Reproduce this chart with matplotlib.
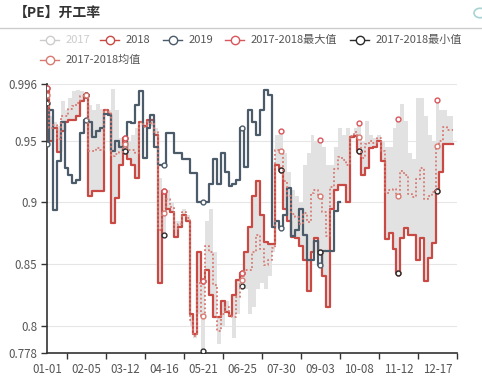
import numpy as np
import matplotlib
matplotlib.use('Agg')
import matplotlib.pyplot as plt
from matplotlib.lines import Line2D
from matplotlib.patches import Circle

plt.rcParams['font.family'] = ['Noto Sans CJK SC', 'DejaVu Sans']

# one sample every 3.5 days, 01-01 .. 12-31
step_days = 3.5
tick_labels = ['01-01', '02-05', '03-12', '04-16', '05-21', '06-25',
               '07-30', '09-03', '10-08', '11-12', '12-17']
y_ticks = [0.778, 0.8, 0.85, 0.9, 0.95, 0.996]
y_tick_labels = ['0.778', '0.8', '0.85', '0.9', '0.95', '0.996']

v2017 = [.981, .970, .965, .962, .982, .975, .985, .990, .991, .990,
         .987, .979, .975, .980, .976, .975, .975, .992, .975, .952,
         .942, .950, .955, .960, .965, .960, .963, .962, .960, .920,
         .874, .910, .900, .885, .885, .895, .890, .800, .790, .810,
         .780, .885, .895, .860, .785, .800, .820, .810, .790, .810,
         .832, .830, .810, .815, .830, .835, .830, .840, .860, .955,
         .958, .940, .925, .910, .905, .900, .930, .940, .955, .950,
         .951, .945, .930, .930, .945, .960, .955, .960, .955, .960,
         .964, .950, .966, .955, .952, .955, .950, .945, .945, .960,
         .968, .980, .966, .940, .935, .985, .985, .970, .955, .950,
         .983, .975, .975, .970, .970]

v2018 = [.993, .950, .960, .941, .958, .965, .967, .967, .970, .982,
         .987, .905, .909, .909, .909, .975, .972, .883, .904, .930,
         .952, .935, .930, .920, .965, .962, .967, .967, .955, .835,
         .909, .895, .892, .872, .880, .890, .885, .810, .793, .860,
         .836, .845, .825, .807, .807, .820, .811, .808, .825, .837,
         .843, .860, .880, .905, .917, .890, .868, .866, .866, .930,
         .926, .895, .885, .872, .871, .865, .853, .828, .860, .871,
         .860, .840, .815, .895, .910, .914, .914, .900, .953, .954,
         .942, .922, .928, .944, .945, .950, .934, .870, .875, .862,
         .843, .871, .879, .874, .874, .853, .871, .836, .855, .867,
         .909, .925, .947, .947, .947]

v2019 = [.947, .975, .894, .934, .965, .928, .922, .916, .918, .956,
         .967, .965, .953, .958, .960, .972, .971, .942, .950, .945,
         .942, .965, .964, .979, .990, .936, .960, .971, .945, .930,
         .930, .956, .956, .940, .940, .935, .935, .924, .924, .900,
         .900, .900, .915, .935, .915, .940, .925, .913, .915, .918,
         .960, .929, .975, .965, .955, .975, .991, .987, .880, .885,
         .879, .890, .912, .873, .878, .895, .874, .853, .853, .869,
         .849, .861, .861, .861, .893, .900]

a17 = np.array(v2017)
a18 = np.array(v2018)
v_max = np.maximum(a17, a18)
v_min = np.minimum(a17, a18)
v_mean = (a17 + a18) / 2

x = np.arange(len(v2018)) * step_days
x19 = np.arange(len(v2019)) * step_days

c2018 = '#c94a44'
c2019 = '#4b5b69'
cmax = '#d9565c'
cmin = '#2b2b2b'
cmean = '#d77a72'

fig = plt.figure(figsize=(4.82, 3.81), dpi=100)
ax = fig.add_axes([47 / 482, 1 - 353 / 381, 410 / 482, 269 / 381])

ax.fill_between(x, v_min, v_max, step='mid', color='#e2e2e2', lw=0, zorder=1)

mk = dict(marker='o', markersize=3.5, markerfacecolor='white', markeredgewidth=1.0, markevery=10)
ax.plot(x, v2018, drawstyle='steps-mid', color=c2018, lw=1.6, markeredgecolor=c2018, zorder=3, **mk)
ax.plot(x19, v2019, drawstyle='steps-mid', color=c2019, lw=1.6, markeredgecolor=c2019, zorder=4, **mk)
ax.plot(x, v_max, ls='none', markeredgecolor=cmax, zorder=5, **mk)
ax.plot(x, v_min, ls='none', markeredgecolor=cmin, zorder=5, **mk)
ax.plot(x, v_mean, drawstyle='steps-mid', color=cmean, lw=1.3, ls=(0, (1, 1.3)),
        markeredgecolor=cmean, zorder=5, **mk)

ax.set_xlim(0, 365)
ax.set_ylim(0.778, 0.996)
ax.set_yticks(y_ticks)
ax.set_yticklabels(y_tick_labels)
ax.set_xticks(np.arange(len(tick_labels)) * 35)
ax.set_xticklabels(tick_labels)
ax.set_xticks(np.arange(len(tick_labels)) * 35 + 17.5, minor=True)
ax.tick_params(axis='x', which='major', length=0, pad=7, labelsize=8.3, labelcolor='#555555')
ax.tick_params(axis='x', which='minor', length=4, width=1, color='#333333', direction='out')
ax.tick_params(axis='y', length=4, width=1, color='#333333', pad=3, labelsize=8.3, labelcolor='#555555')

for s in ['top', 'right']:
    ax.spines[s].set_visible(False)
for s in ['left', 'bottom']:
    ax.spines[s].set_color('#333333')
    ax.spines[s].set_linewidth(1.2)
for yv in y_ticks[1:]:
    ax.axhline(yv, color='#e6e6e6', lw=0.8, zorder=0)

# title, separator
fig.text(14 / 482, 1 - 13 / 381, '【PE】开工率', fontsize=10, fontweight='bold',
         color='#333333', va='center', ha='left')
fig.add_artist(Line2D([0, 1], [1 - 28 / 381] * 2, color='#cccccc', lw=1))
fig.add_artist(Circle((480 / 482, 1 - 13 / 381), 6 / 482, transform=fig.transFigure,
                      fill=False, ec='#a9d3d3', lw=1.2))

# legend
legend_items = [
    ('2017', '#cccccc', '#cccccc', 40, 40),
    ('2018', c2018, '#555555', 100, 40),
    ('2019', c2019, '#555555', 163, 40),
    ('2017-2018最大值', cmax, '#555555', 225, 40),
    ('2017-2018最小值', cmin, '#555555', 350, 40),
    ('2017-2018均值', cmean, '#555555', 40, 60),
]
for name, col, tcol, px, py in legend_items:
    fy = 1 - py / 381
    fig.add_artist(Line2D([px / 482, (px + 19) / 482], [fy, fy], color=col, lw=1.0))
    fig.add_artist(Line2D([(px + 9.5) / 482], [fy], marker='o', markersize=6,
                          markerfacecolor='white', markeredgecolor=col, markeredgewidth=1.0))
    fig.text((px + 26) / 482, fy, name, fontsize=8, color=tcol, va='center', ha='left')

fig.savefig('out.png', dpi=100)
